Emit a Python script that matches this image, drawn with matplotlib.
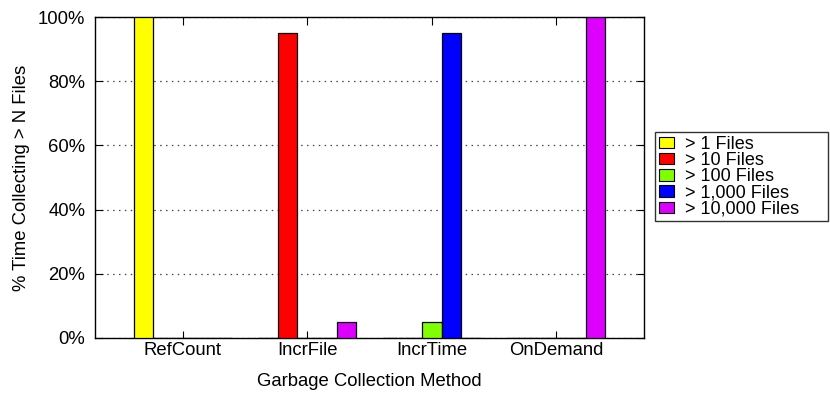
import matplotlib
matplotlib.use("Agg")
import matplotlib.pyplot as plt
import numpy as np

# Share of collection time spent collecting more than N files
methods = ["RefCount", "IncrFile", "IncrTime", "OnDemand"]
series_labels = ["> 1 Files", "> 10 Files", "> 100 Files", "> 1,000 Files", "> 10,000 Files"]
gt_1 = [100, 0, 0, 0]
gt_10 = [0, 95, 0, 0]
gt_100 = [0, 0, 5, 0]
gt_1000 = [0, 0, 95, 0]
gt_10000 = [0, 5, 0, 100]
series_values = [gt_1, gt_10, gt_100, gt_1000, gt_10000]
series_colors = ["#ffff00", "#ff0000", "#80ff00", "#0000ff", "#dd00ff"]
y_ticks = [0, 20, 40, 60, 80, 100]
y_tick_labels = ["0%", "20%", "40%", "60%", "80%", "100%"]

plt.rcParams["font.family"] = ["Liberation Sans", "DejaVu Sans"]
FS = 13.3

fig = plt.figure(figsize=(8.3, 4.0), dpi=100)
ax = fig.add_axes([95 / 830, 1 - 338 / 400, (644 - 95) / 830, (338 - 17) / 400])

x = np.arange(len(methods))
step = 0.157          # spacing of bars inside a cluster (group units)
width = 0.157
n = len(series_values)
for i, (vals, lab, col) in enumerate(zip(series_values, series_labels, series_colors)):
    offs = (i - (n - 1) / 2) * step
    ax.bar(x + offs, vals, width=width, color=col, edgecolor="black",
           linewidth=0.9, label=lab, zorder=3)

ax.set_xlim(-0.703, 3.703)
ax.set_ylim(0, 100)
ax.set_xticks(x)
ax.set_xticklabels(methods, fontsize=FS)
ax.set_yticks(y_ticks)
ax.set_yticklabels(y_tick_labels, fontsize=FS)

ax.tick_params(axis="both", direction="in", length=5.4, width=0.8,
               top=True, right=True, color="black")
ax.tick_params(axis="y", pad=7)
ax.tick_params(axis="x", pad=3)

ax.yaxis.grid(True, linestyle=(0, (1.2, 3.5)), color="#444444", linewidth=0.9, zorder=1)
ax.set_axisbelow(True)
for sp in ax.spines.values():
    sp.set_linewidth(1.0)
    sp.set_color("black")

ax.set_xlabel("Garbage Collection Method", fontsize=FS, labelpad=10)
ax.set_ylabel("% Time Collecting > N Files", fontsize=FS, labelpad=6)

leg = fig.legend(loc="upper left",
                 bbox_to_anchor=(655 / 830, 1 - 132 / 400, (828 - 655) / 830, 0.0),
                 mode="expand", fontsize=13, frameon=True, fancybox=False,
                 handlelength=0.85, handleheight=0.6, handletextpad=0.6,
                 labelspacing=-0.04, borderpad=0.2, borderaxespad=0.0)
frame = leg.get_frame()
frame.set_edgecolor("black")
frame.set_linewidth(1.0)
for h in leg.legend_handles:
    h.set_edgecolor("black")
    h.set_linewidth(0.8)

fig.savefig("out.png", dpi=100)
